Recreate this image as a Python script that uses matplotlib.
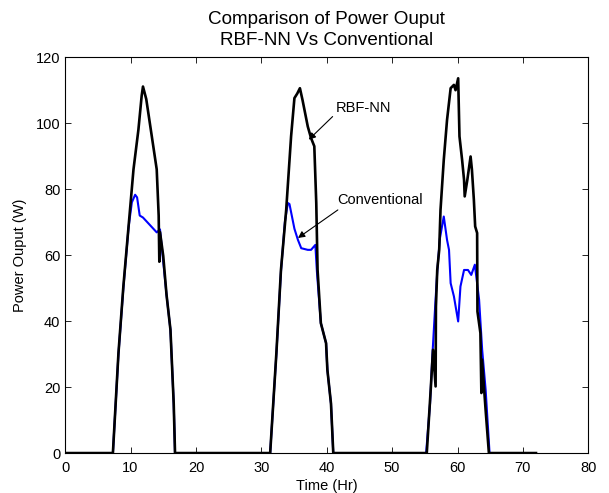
#!/usr/bin/env python3
"""
Comparison of Power Ouput - RBF-NN Vs Conventional
"""

import matplotlib
matplotlib.use("Agg")
import matplotlib.pyplot as plt

plt.rcParams['font.family'] = ['Liberation Sans', 'DejaVu Sans']

# RBF-NN Leistung (schwarz)
rbf_time = [0, 7.3, 8.15, 8.9, 9.7, 10.45, 11.2, 11.7, 11.9, 12.4, 13.25, 14.0,
            14.3, 14.4, 14.5, 15.0, 15.5, 16.1, 16.6, 16.8,
            31.35, 32.3, 33.0, 33.8, 34.55, 35.06, 35.5, 35.9, 36.3, 37.1, 37.6,
            38.1, 38.4, 38.6, 39.1, 39.9, 40.1, 40.65, 41.0,
            55.3, 55.9, 56.25, 56.65, 56.7, 56.9, 57.2, 57.4, 57.9, 58.4, 58.95,
            59.45, 59.7, 60.1, 60.3, 60.7, 61.0, 61.1, 61.5, 62.0, 62.2, 62.5,
            62.7, 63.0, 63.05, 63.5, 63.65, 63.75, 64.3, 64.8, 72]
rbf_power = [0, 0, 30.3, 50.5, 68.8, 86, 98, 108.3, 111.1, 107.3, 96, 86,
             72, 58, 67, 59.7, 48, 37.4, 15, 0,
             0, 30.3, 55.5, 73.7, 96, 107.6, 109, 110.6, 107, 99, 95.5,
             93, 75.8, 55.5, 39.4, 33.3, 25.2, 15, 0,
             0, 19.2, 31.3, 20.2, 44.4, 55.5, 61.6, 73.7, 88.9, 101, 110.6,
             111.6, 110, 113.6, 96, 88.9, 82.8, 77.8, 82.8, 89.9, 86, 76.8,
             68.7, 66.7, 42.9, 36.4, 18.2, 28.3, 13, 0, 0]

# Konventionelle Leistung (blau)
conv_time = [0, 7.3, 8.15, 8.9, 9.7, 10.2, 10.7, 11.0, 11.4, 11.9, 14.0, 14.5,
             14.8, 15.0, 15.5, 16.1, 16.6, 16.8,
             31.35, 32.3, 33.0, 33.6, 34.05, 34.3, 35.06, 35.6, 36.1, 37.1, 37.6,
             38.26, 38.5, 39.1, 39.9, 40.1, 40.65, 41.0,
             55.2, 55.8, 56.15, 56.6, 56.9, 57.3, 57.9, 58.4, 58.7, 58.95, 59.45,
             60.1, 60.45, 61.0, 61.6, 62.1, 62.65, 63.3, 63.77, 64.3, 64.9, 72]
conv_power = [0, 0, 30, 50, 68.5, 76, 78.3, 77.5, 72, 71.4, 66.9, 67.8,
              62, 58, 48, 37.4, 15, 0,
              0, 30, 55, 70, 75.8, 75.5, 68, 64.6, 62.1, 61.6, 61.6,
              63.1, 55, 39.4, 33.3, 25.2, 15, 0,
              0, 15, 29.3, 45, 55, 65, 71.7, 64.6, 61.6, 51.5, 47.5,
              39.9, 50.5, 55.5, 55.5, 54, 57.1, 46.5, 31.3, 19.2, 0, 0]

fig = plt.figure(figsize=(6.09, 4.93), dpi=100)
ax = fig.add_axes([0.107, 0.081, 0.859, 0.803])

ax.plot(conv_time, conv_power, color='#0000ff', lw=1.5)
ax.plot(rbf_time, rbf_power, color='black', lw=1.9)

ax.set_xlim(0, 80)
ax.set_ylim(0, 120)
ax.set_xticks(range(0, 81, 10))
ax.set_yticks(range(0, 121, 20))
ax.tick_params(direction='in', top=True, right=True, labelsize=10.5,
               length=4, width=0.6)
ax.tick_params(axis='x', pad=5.5)
for sp in ax.spines.values():
    sp.set_linewidth(0.8)

ax.set_xlabel('Time (Hr)', fontsize=10.5, labelpad=3)
ax.set_ylabel('Power Ouput (W)', fontsize=10.5, labelpad=6)
ax.set_title('Comparison of Power Ouput\nRBF-NN Vs Conventional', fontsize=13.6,
             linespacing=1.3, pad=8.5)

# Pfeile mit Beschriftung
arrow = dict(arrowstyle='-|>', color='black', lw=0.8, mutation_scale=10,
             shrinkA=0, shrinkB=0)
ax.text(41.4, 104.5, 'RBF-NN', fontsize=10.5, va='center')
ax.annotate('', xy=(37.25, 95), xytext=(40.9, 102), arrowprops=arrow)
ax.text(41.65, 76.8, 'Conventional', fontsize=10.5, va='center')
ax.annotate('', xy=(35.6, 65.2), xytext=(41.7, 73.7), arrowprops=arrow)

fig.savefig('out.png', dpi=100)
